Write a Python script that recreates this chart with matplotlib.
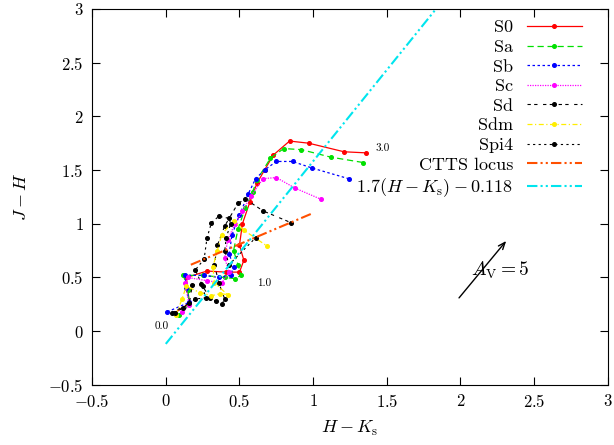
import matplotlib
matplotlib.use("Agg")
import matplotlib.pyplot as plt
from matplotlib.ticker import FuncFormatter
import numpy as np

plt.rcParams['font.family'] = 'serif'
plt.rcParams['font.serif'] = ['cmr10']
plt.rcParams['mathtext.fontset'] = 'cm'
plt.rcParams['axes.formatter.use_mathtext'] = True

# colour tracks of the galaxy templates (H-Ks, J-H), z = 0 ... 3
s0_hk = [0.06, 0.16, 0.15, 0.14, 0.28, 0.41, 0.50, 0.53, 0.50, 0.52, 0.57, 0.62, 0.67, 0.73, 0.84, 0.97, 1.21, 1.36]
s0_jh = [0.17, 0.26, 0.38, 0.50, 0.56, 0.55, 0.55, 0.66, 0.80, 1.00, 1.20, 1.38, 1.50, 1.64, 1.77, 1.75, 1.67, 1.66]
sa_hk = [0.09, 0.16, 0.15, 0.12, 0.25, 0.40, 0.47, 0.51, 0.49, 0.46, 0.49, 0.54, 0.59, 0.62, 0.71, 0.80, 0.92, 1.12, 1.34]
sa_jh = [0.15, 0.25, 0.38, 0.52, 0.52, 0.50, 0.49, 0.52, 0.62, 0.75, 0.95, 1.15, 1.30, 1.41, 1.61, 1.70, 1.69, 1.62, 1.57]
sb_hk = [0.01, 0.16, 0.14, 0.13, 0.26, 0.36, 0.44, 0.46, 0.43, 0.45, 0.50, 0.56, 0.61, 0.67, 0.75, 0.86, 0.99, 1.24]
sb_jh = [0.18, 0.27, 0.40, 0.52, 0.52, 0.50, 0.52, 0.60, 0.72, 0.90, 1.08, 1.28, 1.42, 1.50, 1.58, 1.58, 1.52, 1.42]
sc_hk = [0.11, 0.16, 0.13, 0.15, 0.28, 0.38, 0.43, 0.40, 0.42, 0.47, 0.52, 0.58, 0.66, 0.75, 0.88, 1.05]
sc_jh = [0.18, 0.24, 0.45, 0.50, 0.47, 0.45, 0.55, 0.68, 0.85, 1.00, 1.12, 1.26, 1.42, 1.43, 1.33, 1.23]
sd_hk = [0.04, 0.16, 0.18, 0.24, 0.30, 0.34, 0.38, 0.40, 0.36, 0.33, 0.35, 0.40, 0.49, 0.54, 0.66, 0.85]
sd_jh = [0.17, 0.26, 0.43, 0.44, 0.31, 0.28, 0.25, 0.30, 0.45, 0.62, 0.80, 0.98, 1.19, 1.23, 1.12, 1.01]
sdm_hk = [0.07, 0.11, 0.14, 0.23, 0.31, 0.37, 0.42, 0.33, 0.32, 0.35, 0.38, 0.46, 0.53, 0.69]
sdm_jh = [0.15, 0.30, 0.42, 0.36, 0.33, 0.35, 0.34, 0.45, 0.60, 0.75, 0.90, 1.03, 0.94, 0.79]
spi4_hk = [0.06, 0.12, 0.20, 0.27, 0.25, 0.20, 0.26, 0.28, 0.31, 0.36, 0.43, 0.44, 0.41, 0.40, 0.43, 0.61]
spi4_jh = [0.17, 0.22, 0.30, 0.31, 0.42, 0.57, 0.67, 0.87, 1.01, 1.07, 1.05, 1.00, 0.87, 0.75, 0.62, 0.87]

ctts_hk = [0.17, 0.99]
fit_hk = [0.0, 1.834]

fig, ax = plt.subplots(figsize=(6.14, 4.45), dpi=100)
fig.subplots_adjust(left=0.15, right=0.99, top=0.98, bottom=0.135)

ms = 2.6
ax.plot(s0_hk, s0_jh, color='#ff0000', ls='-', lw=0.9, marker='o', ms=ms, label='S0')
ax.plot(sa_hk, sa_jh, color='#00e000', ls=(0, (5, 3)), lw=0.9, marker='o', ms=ms, label='Sa')
ax.plot(sb_hk, sb_jh, color='#0000ff', ls=(0, (2, 2)), lw=0.9, marker='o', ms=ms, label='Sb')
ax.plot(sc_hk, sc_jh, color='#ff00ff', ls=(0, (1, 1)), lw=0.9, marker='o', ms=ms, label='Sc')
ax.plot(sd_hk, sd_jh, color='black', ls=(0, (3, 3, 3, 5)), lw=0.8, marker='o', ms=ms, label='Sd')
ax.plot(sdm_hk, sdm_jh, color='#ffee00', ls=(0, (4, 2, 1, 2)), lw=0.9, marker='o', ms=ms, label='Sdm')
ax.plot(spi4_hk, spi4_jh, color='black', ls=(0, (2, 3)), lw=0.8, marker='o', ms=ms, label='Spi4')
ax.plot(ctts_hk, [0.58 * x + 0.52 for x in ctts_hk], color='#ff5000', ls=(0, (5, 1.5, 1, 1.5, 1, 1.5)),
        lw=1.5, label='CTTS locus')
ax.plot(fit_hk, [1.7 * x - 0.118 for x in fit_hk], color='#00e5ee', ls=(0, (5, 1.5, 1, 1.5, 1, 1.5)),
        lw=1.5, label=r'$1.7(H-K_{\rm s})-0.118$')

# redshift labels
ax.text(-0.03, 0.05, '0.0', fontsize=8, ha='center', va='center', color='black')
ax.text(0.67, 0.45, '1.0', fontsize=8, ha='center', va='center', color='black')
ax.text(1.47, 1.705, '3.0', fontsize=8, ha='center', va='center', color='black')

# reddening vector
ax.annotate('', xy=(2.31, 0.84), xytext=(1.99, 0.31),
            arrowprops=dict(arrowstyle='->,head_length=0.5,head_width=0.2', color='black', lw=1.0,
                            shrinkA=0, shrinkB=0))
ax.text(2.07, 0.565, r'$A_{\rm V} = 5$', fontsize=14, ha='left', va='center')

ax.set_xlim(-0.5, 3)
ax.set_ylim(-0.5, 3)
ax.set_xticks(np.arange(-0.5, 3.01, 0.5))
ax.set_yticks(np.arange(-0.5, 3.01, 0.5))
fmt = FuncFormatter(lambda v, p: r'$%g$' % round(v, 2))
ax.xaxis.set_major_formatter(fmt)
ax.yaxis.set_major_formatter(fmt)
ax.tick_params(direction='in', top=True, right=True, labelsize=12, length=6)
ax.tick_params(axis='x', pad=6)
ax.tick_params(axis='y', pad=6)
ax.set_xlabel(r'$H-K_{\rm s}$', fontsize=13, labelpad=6)
ax.set_ylabel(r'$J-H$', fontsize=13, labelpad=14)

ax.legend(loc='upper right', frameon=False, markerfirst=False, numpoints=1, fontsize=13,
          handlelength=3.0, labelspacing=0.22, borderaxespad=0.2, handletextpad=0.8,
          bbox_to_anchor=(0.97, 1.0))

plt.savefig('out.png', dpi=100)
